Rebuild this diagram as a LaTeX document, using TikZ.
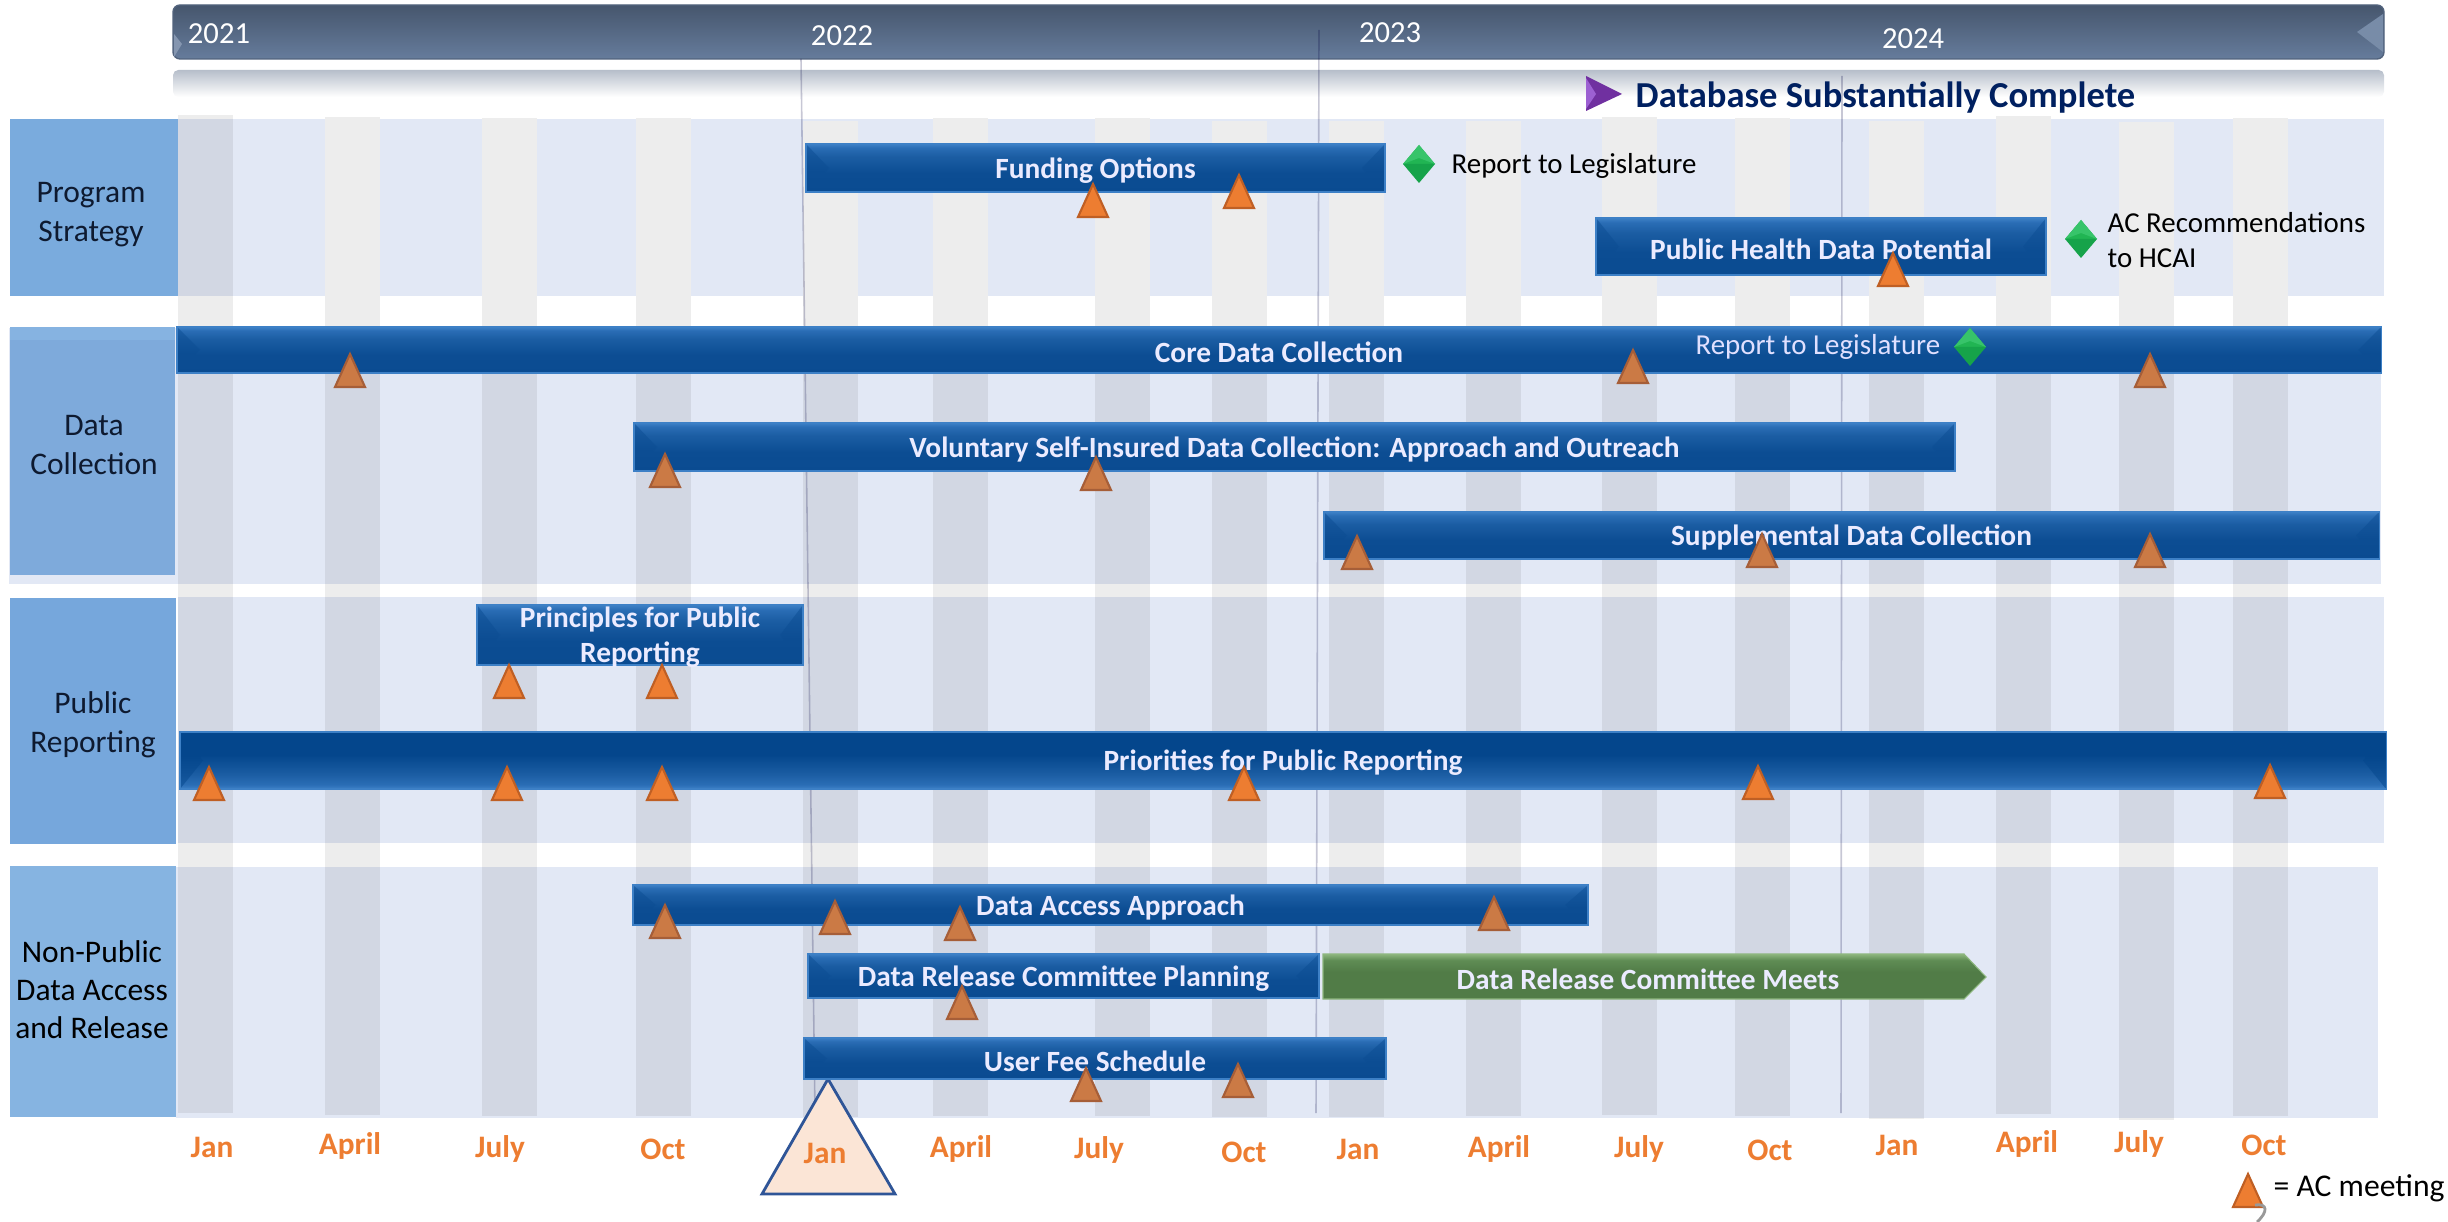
\documentclass[tikz,border=0pt]{standalone}
\usepackage{fontspec}
\setmainfont{Carlito}
\usetikzlibrary{calc}
\definecolor{rowbg}{HTML}{E2E8F5}
\definecolor{stripetop}{HTML}{EDEDED}
\definecolor{lanea}{HTML}{7AABDD}
\definecolor{laneb}{HTML}{7EAADB}
\definecolor{lanebtop}{HTML}{86B3E1}
\definecolor{lanec}{HTML}{76A7DC}
\definecolor{laned}{HTML}{86B4E1}
\definecolor{lanetxt}{HTML}{0E1A30}
\definecolor{yearlo}{HTML}{667C9C}
\definecolor{yearhi}{HTML}{46566D}
\definecolor{subhi}{HTML}{B6BECA}
\definecolor{barlo}{HTML}{0A4B91}
\definecolor{barmid}{HTML}{0C4D93}
\definecolor{barup}{HTML}{1B5DA3}
\definecolor{bartop}{HTML}{2A6DB5}
\definecolor{barhi}{HTML}{3D80C6}
\definecolor{bardeep}{HTML}{04468C}
\definecolor{grnlo}{HTML}{517C47}
\definecolor{grnup}{HTML}{5F8C54}
\definecolor{grnhi}{HTML}{8DB67E}
\definecolor{orangetxt}{HTML}{ED7D31}
\definecolor{orangeline}{HTML}{BF5F24}
\definecolor{dullfill}{HTML}{CB7A45}
\definecolor{dullline}{HTML}{A65E38}
\definecolor{navytxt}{HTML}{002060}
\definecolor{gemhi}{HTML}{37C46A}
\definecolor{gemmid}{HTML}{21B553}
\definecolor{gemlo}{HTML}{16A34A}
\definecolor{purplemain}{HTML}{7030A0}
\definecolor{purplelite}{HTML}{9C60D2}
\definecolor{peakline}{HTML}{2F5597}
\definecolor{peakfill}{HTML}{FBE5D6}
\pgfdeclareverticalshading{barblue}{100bp}{color(0bp)=(barlo); color(25bp)=(barlo); color(45bp)=(barmid); color(62bp)=(barup); color(71bp)=(bartop); color(75bp)=(barhi); color(100bp)=(barhi)}
\pgfdeclareverticalshading{barflip}{100bp}{color(0bp)=(barhi); color(25bp)=(barhi); color(29bp)=(bartop); color(38bp)=(barup); color(55bp)=(bardeep); color(75bp)=(bardeep); color(100bp)=(bardeep)}
\pgfdeclareverticalshading{bargreen}{100bp}{color(0bp)=(grnlo); color(25bp)=(grnlo); color(55bp)=(grnlo); color(68bp)=(grnup); color(75bp)=(grnhi); color(100bp)=(grnhi)}
\tikzset{
    x=0.01cm, y=-0.01cm,
    rowband/.style={fill=rowbg},
    stripe/.style={fill=black, fill opacity=0.07},
    stripehead/.style={fill=stripetop},
    yearline/.style={draw=black!75!blue, opacity=0.22, line width=0.45pt},
    bevelend/.style={
        path picture={
            \fill[#1, opacity=0.5] (path picture bounding box.north west) -- ($(path picture bounding box.west)+(23,0)$) -- (path picture bounding box.south west) -- cycle;
            \fill[#1, opacity=0.5] (path picture bounding box.north east) -- ($(path picture bounding box.east)+(-23,0)$) -- (path picture bounding box.south east) -- cycle;
        }},
    bluebar/.style={shading=barblue, draw=barhi, line width=0.3pt, bevelend=barmid},
    flipbar/.style={shading=barflip, draw=barhi, line width=0.3pt, bevelend=bardeep},
    greenbar/.style={shading=bargreen, draw=grnhi, line width=0.3pt},
    bartext/.style={text=white!92!blue, inner sep=0, align=center, yshift=-0.7pt, font=\fontsize{8.35}{9.9}\selectfont\bfseries},
    lanetext/.style={text=lanetxt, inner sep=0, align=center, yshift=-0.5pt, font=\fontsize{8.95}{11}\selectfont},
    yeartext/.style={text=white, inner sep=0, font=\fontsize{8.7}{11}\selectfont},
    month/.style={text=orangetxt, inner sep=0, font=\fontsize{8.9}{11}\selectfont\bfseries},
    note/.style={text=black, inner sep=0, align=left, font=\fontsize{8.22}{10}\selectfont},
    acmark/.pic={\draw[fill=orangetxt, draw=orangeline, line width=0.6pt] (-15,0) -- (15,0) -- (0,-33) -- cycle;},
    acdull/.pic={\draw[fill=dullfill, draw=dullline, line width=0.6pt] (-15,0) -- (15,0) -- (0,-33) -- cycle;},
    milestone/.pic={
        \fill[gemmid] (-16,0) -- (0,-19) -- (16,0) -- cycle;
        \fill[gemlo] (-16,0) -- (0,19) -- (16,0) -- cycle;
        \fill[gemhi] (-16,0) -- (0,-19) -- (0,-6) -- cycle;
        \fill[gemhi] (16,0) -- (0,-19) -- (0,-6) -- cycle;
    },
}
\begin{document}
\begin{tikzpicture}
    \useasboundingbox (0,0) rectangle (2448,1222);

    % header bars
    \draw[rounded corners=2pt, top color=yearhi, bottom color=yearlo, draw=yearlo!80!black, line width=0.4pt] (173,5) rectangle (2384,59);
    \fill[yearlo!88!white] (2383,14) -- (2357,32) -- (2383,52) -- cycle;
    \fill[yearlo!80!white] (174,57) -- (182,44) -- (174,34) -- cycle;
    \shade[rounded corners=1.5pt, top color=subhi, bottom color=white] (173,70) rectangle (2384,97);

    % lanes
    \fill[rowband] (178,119) rectangle (2384,296);
    \fill[rowband] (9,328) rectangle (2381,584);
    \fill[rowband] (178,597) rectangle (2384,843);
    \fill[rowband] (176,867) rectangle (2378,1118);
    \fill[lanea] (10,119) rectangle (178,296);
    \fill[laneb] (10,327) rectangle (175,575);
    \fill[lanebtop] (10,327) rectangle (175,340);
    \fill[lanec] (10,598) rectangle (176,844);
    \fill[laned] (10,866) rectangle (176,1117);
    \node[lanetext] (program) at (91,213) {Program\\Strategy};
    \node[lanetext] (datacoll) at (94,443) {Data\\Collection};
    \node[lanetext] (pubrep) at (93,723) {Public\\Reporting};
    \node[lanetext, text=black, font=\fontsize{8.95}{10.8}\selectfont] (nonpub) at (92,988) {Non-Public\\Data Access\\and Release};

    % month stripes
    \fill[stripe] (178,115) rectangle (233,1113);
    \fill[stripe] (325,328) rectangle (380,1115);
    \fill[stripe] (482,328) rectangle (537,1116);
    \fill[stripe] (636,328) rectangle (691,1116);
    \fill[stripe] (803,328) rectangle (858,1117);
    \fill[stripe] (933,328) rectangle (988,1116);
    \fill[stripe] (1095,328) rectangle (1150,1116);
    \fill[stripe] (1212,328) rectangle (1267,1117);
    \fill[stripe] (1329,328) rectangle (1384,1117);
    \fill[stripe] (1466,328) rectangle (1521,1116);
    \fill[stripe] (1602,328) rectangle (1657,1115);
    \fill[stripe] (1735,328) rectangle (1790,1116);
    \fill[stripe] (1869,328) rectangle (1924,1119);
    \fill[stripe] (1996,328) rectangle (2051,1114);
    \fill[stripe] (2119,328) rectangle (2174,1120);
    \fill[stripe] (2233,328) rectangle (2288,1116);
    \fill[stripehead] (325,117) rectangle (380,328);
    \fill[stripehead] (482,118) rectangle (537,328);
    \fill[stripehead] (636,118) rectangle (691,328);
    \fill[stripehead] (803,121) rectangle (858,328);
    \fill[stripehead] (933,118) rectangle (988,328);
    \fill[stripehead] (1095,118) rectangle (1150,328);
    \fill[stripehead] (1212,121) rectangle (1267,328);
    \fill[stripehead] (1329,121) rectangle (1384,328);
    \fill[stripehead] (1466,121) rectangle (1521,328);
    \fill[stripehead] (1602,117) rectangle (1657,328);
    \fill[stripehead] (1735,118) rectangle (1790,328);
    \fill[stripehead] (1869,121) rectangle (1924,328);
    \fill[stripehead] (1996,116) rectangle (2051,328);
    \fill[stripehead] (2119,122) rectangle (2174,328);
    \fill[stripehead] (2233,118) rectangle (2288,328);

    % year lines
    \draw[yearline] (801,59) -- (815,1113);
    \draw[yearline] (1319,30) -- (1316,1113);
    \draw[yearline] (1842,76) -- (1841,1113);

    % years
    \node[yeartext] (y2021) at (219,34) {2021};
    \node[yeartext] (y2022) at (842,36) {2022};
    \node[yeartext] (y2023) at (1390,33) {2023};
    \node[yeartext] (y2024) at (1913,39) {2024};

    % big marker under the user fee bar
    \draw[fill=peakfill, draw=peakline, line width=0.8pt] (828,1079) -- (895,1194) -- (762,1194) -- cycle;

    % task bars
    \shade[bluebar] (806,144) rectangle node[bartext] (funding) {Funding Options} (1385,192);
    \shade[bluebar] (1596,218) rectangle node[bartext] (pubhealth) {Public Health Data Potential} (2046,275);
    \shade[bluebar] (177,327) rectangle node[bartext] (coredata) {Core Data Collection} (2381,373);
    \shade[bluebar] (634,423) rectangle node[bartext] (voluntary) {Voluntary Self-Insured Data Collection: Approach and Outreach} (1955,471);
    \shade[bluebar] (1324,512) rectangle node[bartext] (supplement) {Supplemental Data Collection} (2379,559);
    \shade[bluebar] (477,605) rectangle node[bartext] (principles) {Principles for Public\\Reporting} (803,665);
    \shade[flipbar] (180,732) rectangle node[bartext] (priorities) {Priorities for Public Reporting} (2386,789);
    \shade[bluebar] (633,885) rectangle node[bartext] (access) {Data Access Approach} (1588,925);
    \shade[bluebar] (808,954) rectangle node[bartext] (planning) {Data Release Committee Planning} (1319,998);
    \shade[bluebar] (804,1038) rectangle node[bartext] (userfee) {User Fee Schedule} (1386,1079);
    \shade[greenbar] (1323,954) -- (1964,954) -- (1986,977) -- (1964,999) -- (1323,999) -- cycle;
    \node[bartext] (meets) at (1648,977) {Data Release Committee Meets};

    % milestones
    \fill[purplemain] (1586,76) -- (1622,94) -- (1586,111) -- cycle;
    \fill[purplelite] (1586,78) -- (1596,94) -- (1586,109) -- cycle;
    \node[text=navytxt, inner sep=0, anchor=west, font=\fontsize{10.4}{12}\selectfont\bfseries] (database) at (1635,98) {Database Substantially Complete};
    \pic at (1419,164) {milestone};
    \node[note, anchor=west] (reportA) at (1451,166) {Report to Legislature};
    \pic at (2081,239) {milestone};
    \node[note, anchor=west] (acrec) at (2107,240) {AC Recommendations\\to HCAI};
    \pic at (1970,347) {milestone};
    \node[note, anchor=east, text=white!88!blue] (reportB) at (1941,347) {Report to Legislature};

    % AC meetings
    \pic at (1093,217) {acmark};
    \pic at (1239,208) {acmark};
    \pic at (1893,286) {acmark};
    \pic at (350,387) {acdull};
    \pic at (1633,383) {acdull};
    \pic at (2150,387) {acdull};
    \pic at (665,487) {acdull};
    \pic at (1096,490) {acdull};
    \pic at (1357,569) {acdull};
    \pic at (1762,567) {acdull};
    \pic at (2150,567) {acdull};
    \pic at (509,698) {acmark};
    \pic at (662,698) {acmark};
    \pic at (209,800) {acmark};
    \pic at (507,800) {acmark};
    \pic at (662,800) {acmark};
    \pic at (1244,800) {acmark};
    \pic at (1758,799) {acmark};
    \pic at (2270,798) {acmark};
    \pic at (665,938) {acdull};
    \pic at (835,934) {acdull};
    \pic at (960,940) {acdull};
    \pic at (1494,930) {acdull};
    \pic at (962,1019) {acdull};
    \pic at (1086,1101) {acdull};
    \pic at (1238,1097) {acdull};

    % months
    \node[month] (jan21) at (212,1147) {Jan};
    \node[month] (apr21) at (350,1146) {April};
    \node[month] (jul21) at (500,1149) {July};
    \node[month] (oct21) at (663,1149) {Oct};
    \node[month] (jan22) at (825,1153) {Jan};
    \node[month] (apr22) at (961,1149) {April};
    \node[month] (jul22) at (1099,1150) {July};
    \node[month] (oct22) at (1244,1152) {Oct};
    \node[month] (jan23) at (1358,1149) {Jan};
    \node[month] (apr23) at (1499,1149) {April};
    \node[month] (jul23) at (1639,1149) {July};
    \node[month] (oct23) at (1770,1150) {Oct};
    \node[month] (jan24) at (1897,1145) {Jan};
    \node[month] (apr24) at (2027,1144) {April};
    \node[month] (jul24) at (2139,1144) {July};
    \node[month] (oct24) at (2264,1145) {Oct};

    % key
    \pic at (2248,1207) {acmark};
    \draw[gray!80, line width=0.8pt] (2255,1205) .. controls (2268,1203) and (2268,1212) .. (2257,1222);
    \node[note, anchor=west, font=\fontsize{9}{11}\selectfont] (key) at (2273,1188) {= AC meeting};
\end{tikzpicture}
\end{document}
